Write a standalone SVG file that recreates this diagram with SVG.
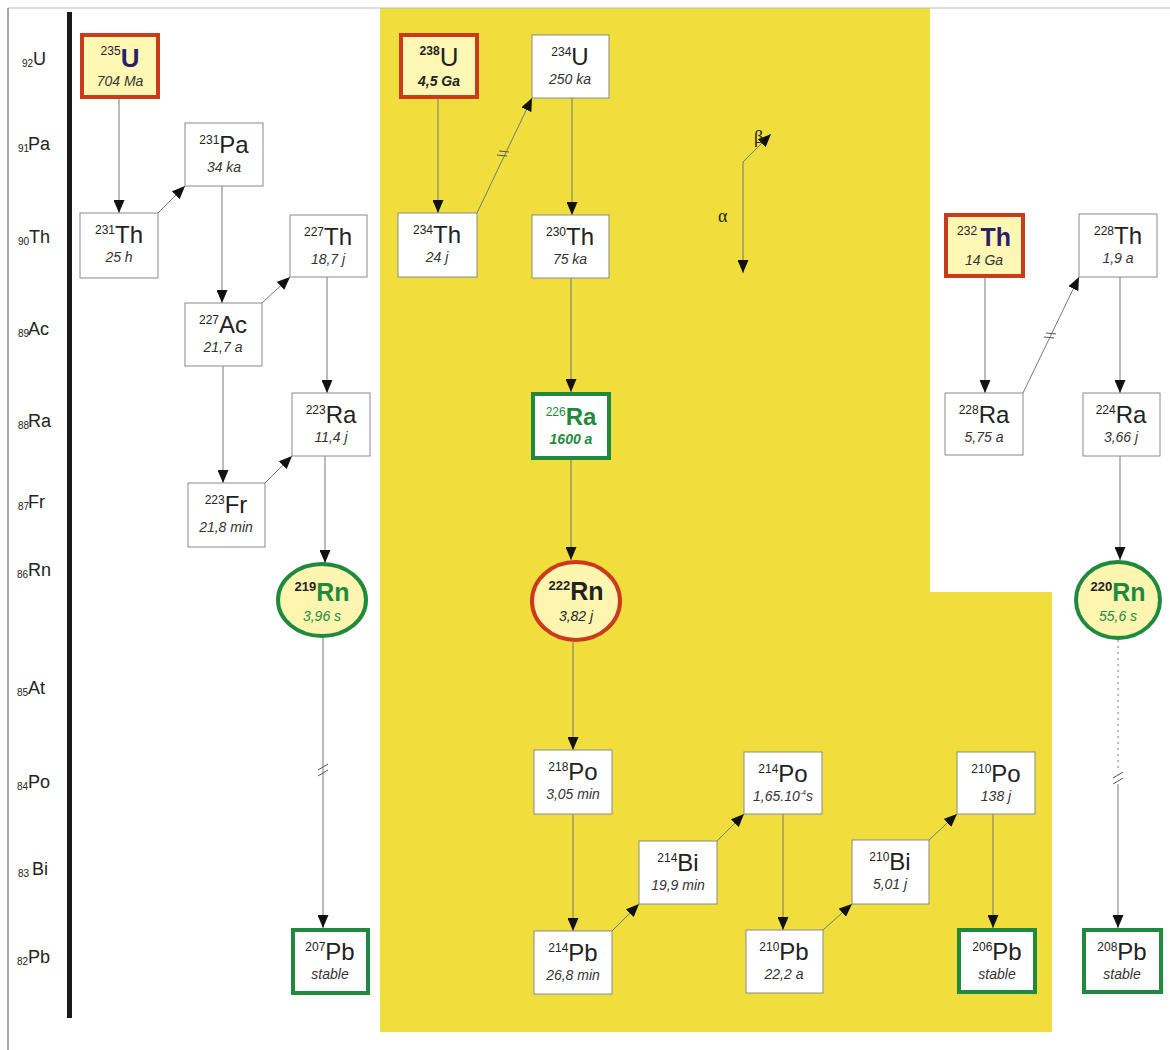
<svg xmlns="http://www.w3.org/2000/svg" width="1170" height="1050" viewBox="0 0 1170 1050">
<style>
text{font-family:"Liberation Sans",Arial,sans-serif;fill:#222}
.lab{font-size:18px}
.sub{font-size:10px}
.sup{font-size:12px}
.el{font-size:24px}
.hl{font-size:14px;font-style:italic;fill:#333}
.box{fill:#fff;stroke:#8a8a8a;stroke-width:1}
.start{fill:#fff8b4;stroke:#cc3a1e;stroke-width:4}
.stab{fill:#fff;stroke:#1f8a3e;stroke-width:4}
.rng{fill:#fdf5b0;stroke:#1f8a3e;stroke-width:4}
.rnr{fill:#fdf5b0;stroke:#cc3a1e;stroke-width:4}
.c{stroke:#777;stroke-width:1;fill:none}
.brk{stroke:#555;stroke-width:1;fill:none}
.greek{font-family:"Liberation Serif","DejaVu Serif",serif;font-size:18px;fill:#222}
</style>
<defs>
<marker id="ah" viewBox="0 0 13 11" refX="13" refY="5.5" markerWidth="13" markerHeight="11" markerUnits="userSpaceOnUse" orient="auto"><path d="M0,0 L13,5.5 L0,11 z" fill="#111"/></marker>
</defs>
<rect width="1170" height="1050" fill="#fff"/>
<path d="M380,8 H930 V592 H1052 V1032 H380 Z" fill="#f0de3c"/>
<line x1="8" y1="8" x2="1170" y2="8" stroke="#bbb" stroke-width="1"/>
<line x1="8" y1="8" x2="8" y2="1050" stroke="#555" stroke-width="1"/>
<rect x="67" y="12" width="5" height="1006" fill="#1a1a1a"/>

<g id="axis">
<text x="22" y="67" class="sub">92</text><text x="33" y="65" class="lab">U</text>
<text x="18" y="152" class="sub">91</text><text x="28" y="150" class="lab">Pa</text>
<text x="18" y="245" class="sub">90</text><text x="29" y="243" class="lab">Th</text>
<text x="18" y="337" class="sub">89</text><text x="28" y="335" class="lab">Ac</text>
<text x="18" y="429" class="sub">88</text><text x="28" y="427" class="lab">Ra</text>
<text x="18" y="510" class="sub">87</text><text x="28" y="508" class="lab">Fr</text>
<text x="17" y="578" class="sub">86</text><text x="28" y="576" class="lab">Rn</text>
<text x="17" y="696" class="sub">85</text><text x="28" y="694" class="lab">At</text>
<text x="17" y="790" class="sub">84</text><text x="28" y="788" class="lab">Po</text>
<text x="18" y="877" class="sub">83</text><text x="32" y="875" class="lab">Bi</text>
<text x="17" y="965" class="sub">82</text><text x="28" y="963" class="lab">Pb</text>
</g>

<g id="connectors">
<line class="c" x1="119" y1="99" x2="119" y2="213" marker-end="url(#ah)"/>
<line class="c" x1="158" y1="213" x2="185" y2="186" marker-end="url(#ah)"/>
<line class="c" x1="222" y1="186" x2="222" y2="303" marker-end="url(#ah)"/>
<line class="c" x1="262" y1="303" x2="290" y2="277" marker-end="url(#ah)"/>
<line class="c" x1="223" y1="366" x2="223" y2="483" marker-end="url(#ah)"/>
<line class="c" x1="327" y1="277" x2="327" y2="393" marker-end="url(#ah)"/>
<line class="c" x1="265" y1="483" x2="292" y2="456" marker-end="url(#ah)"/>
<line class="c" x1="325" y1="456" x2="325" y2="563" marker-end="url(#ah)"/>
<line class="c" x1="323" y1="637" x2="323" y2="928" marker-end="url(#ah)"/>
<path class="brk" d="M318,770 L328,764 M318,776 L328,770"/>
<line class="c" x1="438" y1="99" x2="438" y2="213" marker-end="url(#ah)"/>
<line class="c" x1="477" y1="213" x2="532" y2="98" marker-end="url(#ah)"/>
<path class="brk" d="M497,155 L507,156 M499,151 L509,152"/>
<line class="c" x1="572" y1="98" x2="572" y2="215" marker-end="url(#ah)"/>
<line class="c" x1="571" y1="278" x2="571" y2="392" marker-end="url(#ah)"/>
<line class="c" x1="571" y1="460" x2="571" y2="560" marker-end="url(#ah)"/>
<line class="c" x1="573" y1="642" x2="573" y2="750" marker-end="url(#ah)"/>
<line class="c" x1="573" y1="814" x2="573" y2="931" marker-end="url(#ah)"/>
<line class="c" x1="612" y1="931" x2="639" y2="904" marker-end="url(#ah)"/>
<line class="c" x1="717" y1="841" x2="744" y2="814" marker-end="url(#ah)"/>
<line class="c" x1="783" y1="814" x2="783" y2="930" marker-end="url(#ah)"/>
<line class="c" x1="823" y1="930" x2="852" y2="904" marker-end="url(#ah)"/>
<line class="c" x1="929" y1="840" x2="957" y2="814" marker-end="url(#ah)"/>
<line class="c" x1="993" y1="814" x2="993" y2="928" marker-end="url(#ah)"/>
<line class="c" x1="985" y1="278" x2="985" y2="393" marker-end="url(#ah)"/>
<line class="c" x1="1023" y1="393" x2="1079" y2="277" marker-end="url(#ah)"/>
<path class="brk" d="M1044,337 L1054,338 M1046,333 L1056,334"/>
<line class="c" x1="1120" y1="277" x2="1120" y2="393" marker-end="url(#ah)"/>
<line class="c" x1="1120" y1="456" x2="1120" y2="560" marker-end="url(#ah)"/>
<line class="c" x1="1118" y1="640" x2="1118" y2="768" stroke-dasharray="2,4"/>
<path class="brk" d="M1113,778 L1123,772 M1113,784 L1123,778"/>
<line class="c" x1="1118" y1="784" x2="1118" y2="928" marker-end="url(#ah)"/>
<line class="c" x1="743" y1="162" x2="743" y2="273" marker-end="url(#ah)"/>
<line class="c" x1="743" y1="162" x2="771" y2="134" marker-end="url(#ah)"/>
</g>

<g id="legend">
<text x="754" y="143" class="greek">β</text>
<text x="718" y="222" class="greek">α</text>
</g>

<g id="U235"><rect class="start" x="82" y="35" width="76" height="62"/>
<text x="120" y="67" text-anchor="middle"><tspan class="sup" dy="-12">235</tspan><tspan dy="12" font-size="26" font-weight="bold" fill="#2b1f6b">U</tspan></text>
<text x="120" y="86" text-anchor="middle" class="hl">704 Ma</text></g>

<g id="Th231"><rect class="box" x="80" y="213" width="78" height="65"/>
<text x="119" y="243" text-anchor="middle"><tspan class="sup" dy="-9">231</tspan><tspan class="el" dy="9">Th</tspan></text>
<text x="119" y="262" text-anchor="middle" class="hl">25 h</text></g>

<g id="Pa231"><rect class="box" x="185" y="123" width="78" height="63"/>
<text x="224" y="153" text-anchor="middle"><tspan class="sup" dy="-9">231</tspan><tspan class="el" dy="9">Pa</tspan></text>
<text x="224" y="172" text-anchor="middle" class="hl">34 ka</text></g>

<g id="Ac227"><rect class="box" x="185" y="303" width="77" height="63"/>
<text x="223" y="333" text-anchor="middle"><tspan class="sup" dy="-9">227</tspan><tspan class="el" dy="9">Ac</tspan></text>
<text x="223" y="352" text-anchor="middle" class="hl">21,7 a</text></g>

<g id="Th227"><rect class="box" x="290" y="215" width="77" height="62"/>
<text x="328" y="245" text-anchor="middle"><tspan class="sup" dy="-9">227</tspan><tspan class="el" dy="9">Th</tspan></text>
<text x="328" y="264" text-anchor="middle" class="hl">18,7 j</text></g>

<g id="Ra223"><rect class="box" x="292" y="393" width="78" height="63"/>
<text x="331" y="423" text-anchor="middle"><tspan class="sup" dy="-9">223</tspan><tspan class="el" dy="9">Ra</tspan></text>
<text x="331" y="442" text-anchor="middle" class="hl">11,4 j</text></g>

<g id="Fr223"><rect class="box" x="188" y="483" width="77" height="64"/>
<text x="226" y="513" text-anchor="middle"><tspan class="sup" dy="-9">223</tspan><tspan class="el" dy="9">Fr</tspan></text>
<text x="226" y="532" text-anchor="middle" class="hl">21,8 min</text></g>

<g id="Rn219"><ellipse class="rng" cx="322" cy="600" rx="44" ry="36"/>
<text x="322" y="601" text-anchor="middle"><tspan font-size="13" font-weight="bold" dy="-10">219</tspan><tspan font-size="25" font-weight="bold" fill="#1f8a3e" dy="10">Rn</tspan></text>
<text x="322" y="621" text-anchor="middle" class="hl" style="fill:#1f8a3e">3,96 s</text></g>

<g id="Pb207"><rect class="stab" x="293" y="930" width="75" height="63"/>
<text x="330" y="960" text-anchor="middle"><tspan class="sup" dy="-9">207</tspan><tspan class="el" dy="9">Pb</tspan></text>
<text x="330" y="979" text-anchor="middle" class="hl" font-size="13">stable</text></g>

<g id="U238"><rect class="start" x="401" y="35" width="76" height="62"/>
<text x="439" y="66" text-anchor="middle"><tspan class="sup" font-size="13" font-weight="bold" dy="-11">238</tspan><tspan dy="11" font-size="26">U</tspan></text>
<text x="439" y="86" text-anchor="middle" class="hl" font-weight="bold" style="fill:#222">4,5 Ga</text></g>

<g id="U234"><rect class="box" x="532" y="35" width="77" height="63"/>
<text x="570" y="65" text-anchor="middle"><tspan class="sup" dy="-9">234</tspan><tspan class="el" dy="9">U</tspan></text>
<text x="570" y="84" text-anchor="middle" class="hl">250 ka</text></g>

<g id="Th234"><rect class="box" x="398" y="213" width="79" height="64"/>
<text x="437" y="243" text-anchor="middle"><tspan class="sup" dy="-9">234</tspan><tspan class="el" dy="9">Th</tspan></text>
<text x="437" y="262" text-anchor="middle" class="hl">24 j</text></g>

<g id="Th230"><rect class="box" x="532" y="215" width="77" height="63"/>
<text x="570" y="245" text-anchor="middle"><tspan class="sup" dy="-9">230</tspan><tspan class="el" dy="9">Th</tspan></text>
<text x="570" y="264" text-anchor="middle" class="hl">75 ka</text></g>

<g id="Ra226"><rect class="stab" x="533" y="394" width="76" height="64"/>
<text x="571" y="425" text-anchor="middle"><tspan class="sup" dy="-9" fill="#1f8a3e">226</tspan><tspan font-size="24" font-weight="bold" fill="#1f8a3e" dy="9">Ra</tspan></text>
<text x="571" y="444" text-anchor="middle" class="hl" font-weight="bold" style="fill:#1f8a3e">1600 a</text></g>

<g id="Rn222"><ellipse class="rnr" cx="576" cy="601" rx="44" ry="39"/>
<text x="576" y="600" text-anchor="middle"><tspan font-size="13" font-weight="bold" dy="-10">222</tspan><tspan font-size="25" font-weight="bold" dy="10">Rn</tspan></text>
<text x="576" y="621" text-anchor="middle" class="hl" font-size="16" style="fill:#222">3,82 j</text></g>

<g id="Po218"><rect class="box" x="534" y="750" width="78" height="64"/>
<text x="573" y="780" text-anchor="middle"><tspan class="sup" dy="-9">218</tspan><tspan class="el" dy="9">Po</tspan></text>
<text x="573" y="799" text-anchor="middle" class="hl">3,05 min</text></g>

<g id="Pb214"><rect class="box" x="534" y="931" width="78" height="63"/>
<text x="573" y="961" text-anchor="middle"><tspan class="sup" dy="-9">214</tspan><tspan class="el" dy="9">Pb</tspan></text>
<text x="573" y="980" text-anchor="middle" class="hl">26,8 min</text></g>

<g id="Bi214"><rect class="box" x="639" y="841" width="78" height="63"/>
<text x="678" y="871" text-anchor="middle"><tspan class="sup" dy="-9">214</tspan><tspan class="el" dy="9">Bi</tspan></text>
<text x="678" y="890" text-anchor="middle" class="hl">19,9 min</text></g>

<g id="Po214"><rect class="box" x="744" y="752" width="78" height="62"/>
<text x="783" y="782" text-anchor="middle"><tspan class="sup" dy="-9">214</tspan><tspan class="el" dy="9">Po</tspan></text>
<text x="783" y="801" text-anchor="middle" class="hl">1,65.10<tspan font-size="7" dy="-6">-4</tspan><tspan dy="6">s</tspan></text></g>

<g id="Pb210"><rect class="box" x="746" y="930" width="77" height="63"/>
<text x="784" y="960" text-anchor="middle"><tspan class="sup" dy="-9">210</tspan><tspan class="el" dy="9">Pb</tspan></text>
<text x="784" y="979" text-anchor="middle" class="hl">22,2 a</text></g>

<g id="Bi210"><rect class="box" x="852" y="840" width="77" height="64"/>
<text x="890" y="870" text-anchor="middle"><tspan class="sup" dy="-9">210</tspan><tspan class="el" dy="9">Bi</tspan></text>
<text x="890" y="889" text-anchor="middle" class="hl">5,01 j</text></g>

<g id="Po210"><rect class="box" x="957" y="752" width="78" height="62"/>
<text x="996" y="782" text-anchor="middle"><tspan class="sup" dy="-9">210</tspan><tspan class="el" dy="9">Po</tspan></text>
<text x="996" y="801" text-anchor="middle" class="hl">138 j</text></g>

<g id="Pb206"><rect class="stab" x="959" y="930" width="76" height="62"/>
<text x="997" y="960" text-anchor="middle"><tspan class="sup" dy="-9">206</tspan><tspan class="el" dy="9">Pb</tspan></text>
<text x="997" y="979" text-anchor="middle" class="hl" font-size="13">stable</text></g>

<g id="Th232"><rect class="start" x="946" y="215" width="77" height="61"/>
<text x="984" y="246" text-anchor="middle"><tspan class="sup" dy="-11">232 </tspan><tspan dy="11" font-size="25" font-weight="bold" fill="#2b1f6b">Th</tspan></text>
<text x="984" y="265" text-anchor="middle" class="hl">14 Ga</text></g>

<g id="Th228"><rect class="box" x="1079" y="214" width="78" height="63"/>
<text x="1118" y="244" text-anchor="middle"><tspan class="sup" dy="-9">228</tspan><tspan class="el" dy="9">Th</tspan></text>
<text x="1118" y="263" text-anchor="middle" class="hl">1,9 a</text></g>

<g id="Ra228"><rect class="box" x="945" y="393" width="78" height="62"/>
<text x="984" y="423" text-anchor="middle"><tspan class="sup" dy="-9">228</tspan><tspan class="el" dy="9">Ra</tspan></text>
<text x="984" y="442" text-anchor="middle" class="hl">5,75 a</text></g>

<g id="Ra224"><rect class="box" x="1083" y="393" width="77" height="63"/>
<text x="1121" y="423" text-anchor="middle"><tspan class="sup" dy="-9">224</tspan><tspan class="el" dy="9">Ra</tspan></text>
<text x="1121" y="442" text-anchor="middle" class="hl">3,66 j</text></g>

<g id="Rn220"><ellipse class="rng" cx="1118" cy="600" rx="42" ry="38"/>
<text x="1118" y="601" text-anchor="middle"><tspan font-size="13" font-weight="bold" dy="-10">220</tspan><tspan font-size="25" font-weight="bold" fill="#1f8a3e" dy="10">Rn</tspan></text>
<text x="1118" y="621" text-anchor="middle" class="hl" style="fill:#1f8a3e">55,6 s</text></g>

<g id="Pb208"><rect class="stab" x="1084" y="930" width="77" height="62"/>
<text x="1122" y="960" text-anchor="middle"><tspan class="sup" dy="-9">208</tspan><tspan class="el" dy="9">Pb</tspan></text>
<text x="1122" y="979" text-anchor="middle" class="hl" font-size="13">stable</text></g>
</svg>
